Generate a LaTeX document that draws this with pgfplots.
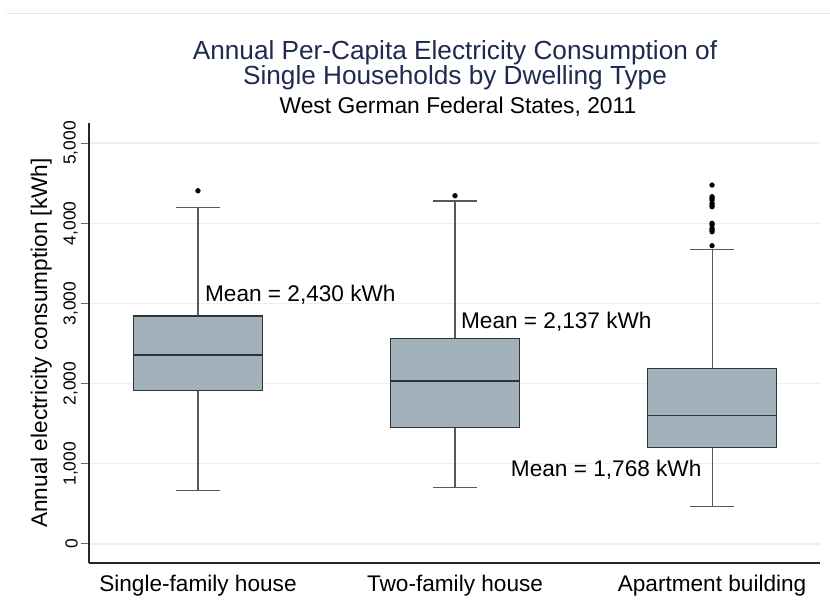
\documentclass[border=0pt]{standalone}
\usepackage{fontspec}
\setmainfont{Liberation Sans}
\usepackage{pgfplots}
\pgfplotsset{compat=1.18}
\definecolor{boxfill}{RGB}{162,178,189}
\definecolor{gridc}{RGB}{232,240,242}
\definecolor{titlec}{RGB}{30,42,80}
\definecolor{framec}{RGB}{232,232,232}
\begin{document}
\begin{tikzpicture}
\useasboundingbox (0bp,0bp) rectangle (830bp,612bp);
\draw[framec, line width=0.8bp] (6bp,599bp) -- (830bp,599bp);
\begin{axis}[
  at={(89bp,49bp)}, anchor=south west,
  scale only axis, width=731bp, height=440bp,
  xmin=0.576, xmax=3.420, ymin=-237, ymax=5250,
  axis x line*=bottom, axis y line*=left,
  axis line style={-, line width=1.1bp, color=black!85},
  xtick={1,2,3},
  xticklabels={Single-family house, Two-family house, Apartment building},
  ytick={0,1000,2000,3000,4000,5000},
  ymajorgrids, grid style={gridc, line width=1.3bp},
  tick align=outside, major tick length=8bp,
  xtick style={draw=none},
  ytick style={line width=1bp, color=black!60},
  yticklabel={\pgfmathprintnumber[1000 sep={,}, assume math mode=true]{\tick}},
  yticklabel style={rotate=90, anchor=south, inner xsep=0pt, inner ysep=3bp, font=\fontsize{17.5}{20}\selectfont},
  xticklabel style={anchor=north, inner sep=0pt, yshift=-4bp, font=\fontsize{22.7}{26}\selectfont},
  clip=false,
]
% whiskers
\addplot[draw=black!65, line width=1.1bp] coordinates {(1,2843) (1,4193)};
\addplot[draw=black!65, line width=1.1bp] coordinates {(1,1911) (1,665)};
\addplot[draw=black!65, line width=1.1bp] coordinates {(0.916,4193) (1.084,4193)};
\addplot[draw=black!65, line width=1.1bp] coordinates {(0.916,665) (1.084,665)};
\addplot[draw=black!65, line width=1.1bp] coordinates {(2,2565) (2,4277)};
\addplot[draw=black!65, line width=1.1bp] coordinates {(2,1450) (2,702)};
\addplot[draw=black!65, line width=1.1bp] coordinates {(1.916,4277) (2.084,4277)};
\addplot[draw=black!65, line width=1.1bp] coordinates {(1.916,702) (2.084,702)};
\addplot[draw=black!65, line width=1.1bp] coordinates {(3,2186) (3,3678)};
\addplot[draw=black!65, line width=1.1bp] coordinates {(3,1206) (3,465)};
\addplot[draw=black!65, line width=1.1bp] coordinates {(2.916,3678) (3.084,3678)};
\addplot[draw=black!65, line width=1.1bp] coordinates {(2.916,465) (3.084,465)};
% boxes (lower quartile to upper quartile)
\addplot[fill=boxfill, draw=black!80, line width=1.1bp] coordinates {(0.75,1911) (1.25,1911) (1.25,2843) (0.75,2843)} -- cycle;
\addplot[fill=boxfill, draw=black!80, line width=1.1bp] coordinates {(1.75,1450) (2.25,1450) (2.25,2565) (1.75,2565)} -- cycle;
\addplot[fill=boxfill, draw=black!80, line width=1.1bp] coordinates {(2.75,1206) (3.25,1206) (3.25,2186) (2.75,2186)} -- cycle;
% medians
\addplot[draw=black!80, line width=1.1bp] coordinates {(0.75,2357) (1.25,2357)};
\addplot[draw=black!80, line width=1.1bp] coordinates {(1.75,2032) (2.25,2032)};
\addplot[draw=black!80, line width=1.1bp] coordinates {(2.75,1605) (3.25,1605)};
% outliers
\addplot[only marks, mark=*, mark size=2.4bp, mark options={black, fill=black}] coordinates {
  (1,4405) (2,4343)
  (3,4476) (3,4331) (3,4310) (3,4289) (3,4248) (3,4227) (3,4206)
  (3,3999) (3,3978) (3,3936) (3,3915) (3,3894) (3,3720)};
\node[anchor=base west, inner sep=0pt, font=\fontsize{22.7}{26}\selectfont] at (axis cs:1.027,3021) {Mean = 2,430 kWh};
\node[anchor=base west, inner sep=0pt, font=\fontsize{22.7}{26}\selectfont] at (axis cs:2.023,2689) {Mean = 2,137 kWh};
\node[anchor=base west, inner sep=0pt, font=\fontsize{22.7}{26}\selectfont] at (axis cs:2.217,839) {Mean = 1,768 kWh};
\end{axis}
\node[anchor=base, inner sep=0pt, font=\fontsize{26.3}{30}\selectfont, text=titlec] at (455bp,552.7bp) {Annual Per-Capita Electricity Consumption of};
\node[anchor=base, inner sep=0pt, font=\fontsize{26.3}{30}\selectfont, text=titlec] at (455bp,527bp) {Single Households by Dwelling Type};
\node[anchor=base, inner sep=0pt, font=\fontsize{22.9}{26}\selectfont] at (458bp,498bp) {West German Federal States, 2011};
\node[rotate=90, anchor=base, inner sep=0pt, font=\fontsize{22.7}{26}\selectfont] at (47bp,269bp) {Annual electricity consumption [kWh]};
\end{tikzpicture}
\end{document}
